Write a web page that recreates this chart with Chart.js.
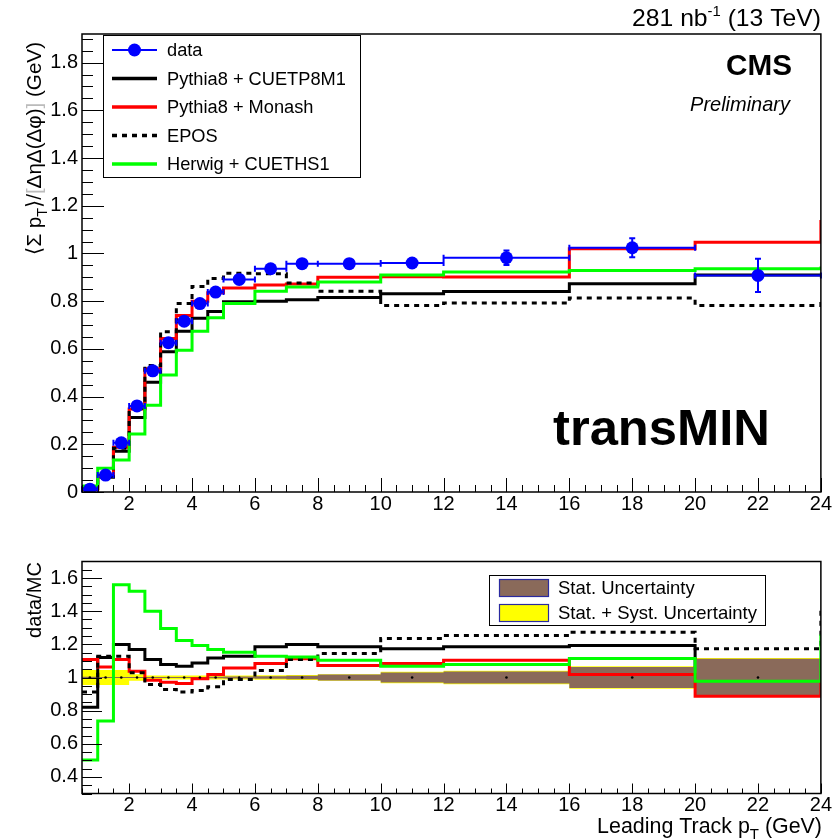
<!DOCTYPE html>
<html><head><meta charset="utf-8">
<script src="https://cdn.jsdelivr.net/npm/chart.js@4/dist/chart.umd.min.js"></script>
<style>
html,body{margin:0;padding:0;background:#fff;}
#wrap{position:relative;width:834px;height:840px;overflow:hidden;}
#c1{position:absolute;left:0;top:0;}
#c2{position:absolute;left:0;top:540px;}
</style></head><body>
<div id="wrap"><canvas id="c1" width="834" height="540"></canvas><canvas id="c2" width="834" height="300"></canvas></div>
<script>
// ---------------- data ----------------
const binEdges = [0.5,1,1.5,2,2.5,3,3.5,4,4.5,5,6,7,8,10,12,16,20,24];
const dataX = [0.75,1.25,1.75,2.25,2.75,3.25,3.75,4.25,4.75,5.5,6.5,7.5,9,11,14,18,22];
const dataValues = [0.012,0.071,0.206,0.361,0.508,0.626,0.716,0.790,0.838,0.891,0.936,0.957,0.957,0.960,0.982,1.024,0.908];
const dataErrors = [0.003,0.003,0.004,0.005,0.006,0.006,0.007,0.007,0.008,0.008,0.009,0.010,0.010,0.012,0.030,0.040,0.070];

const mcCUETP8M1 = [0.015,0.063,0.171,0.312,0.460,0.588,0.674,0.728,0.757,0.798,0.800,0.806,0.815,0.831,0.841,0.873,0.910];
const mcMonash   = [0.011,0.067,0.188,0.348,0.517,0.643,0.740,0.800,0.835,0.855,0.868,0.872,0.900,0.902,0.901,1.020,1.047];
const mcEPOS     = [0.013,0.063,0.183,0.351,0.530,0.672,0.790,0.862,0.895,0.917,0.915,0.876,0.842,0.782,0.792,0.813,0.782];
const mcHerwig   = [0.025,0.100,0.134,0.243,0.364,0.490,0.594,0.674,0.731,0.790,0.842,0.859,0.880,0.910,0.922,0.929,0.936];
const mcOverflow = [0.910,1.140,0.810,0.945]; // CUETP8M1, Monash, EPOS, Herwig

const ratioCUETP8M1 = [0.820,1.120,1.199,1.169,1.108,1.078,1.068,1.088,1.118,1.128,1.185,1.199,1.185,1.173,1.185,1.193,1.000];
const ratioMonash   = [1.108,1.064,1.108,1.038,0.984,0.972,0.964,0.992,1.018,1.058,1.084,1.113,1.072,1.084,1.104,1.018,0.887];
const ratioEPOS     = [0.912,1.128,1.128,1.028,0.958,0.928,0.912,0.922,0.944,0.988,1.042,1.108,1.145,1.235,1.253,1.273,1.173];
const ratioHerwig   = [0.502,0.737,1.560,1.520,1.400,1.295,1.223,1.193,1.169,1.153,1.128,1.124,1.104,1.068,1.078,1.114,0.978];
const ratioOverflow = [1.000,0.980,1.430,1.260];
const ratioData     = [1,1,1,1,1,1,1,1,1,1,1,1,1,1,1,1,1];
const statUnc  = [0.004,0.003,0.003,0.003,0.003,0.003,0.003,0.003,0.004,0.006,0.008,0.010,0.018,0.030,0.036,0.064,0.113];
const totalUnc = [0.045,0.045,0.045,0.020,0.012,0.012,0.012,0.012,0.012,0.012,0.013,0.015,0.020,0.034,0.040,0.068,0.117];

const legendLabels = ['data','Pythia8 + CUETP8M1','Pythia8 + Monash','EPOS','Herwig + CUETHS1'];
const ratioLegendLabels = ['Stat. Uncertainty','Stat. + Syst. Uncertainty'];
const xTicks = [2,4,6,8,10,12,14,16,18,20,22,24];
const yTicksTop = [0,0.2,0.4,0.6,0.8,1,1.2,1.4,1.6,1.8];
const yTicksRatio = [0.4,0.6,0.8,1,1.2,1.4,1.6];

// ---------------- helpers ----------------
const FONT = "'Liberation Sans', Arial, Helvetica, sans-serif";
const RED='#ff0000', GREEN='#00ff00', BLUE='#0000ff', BLACK='#000000', BROWN='#8a6a5a', YELLOW='#ffff00';
function fmt(v){ return String(parseFloat(Number(v).toFixed(2))); }
function stepData(vals,last){ const p = vals.map((v,i)=>({x:binEdges[i],y:v})); p.push({x:binEdges[binEdges.length-1],y:last}); return p; }
function bandData(half,sgn){ const p = half.map((h,i)=>({x:binEdges[i],y:1+sgn*h})); p.push({x:binEdges[binEdges.length-1],y:1+sgn*half[half.length-1]}); return p; }
function pts(xs,ys){ return xs.map((x,i)=>({x:x,y:ys[i]})); }
function lineDS(data,color,dash){ return {data:data,borderColor:color,backgroundColor:color,borderWidth:3,stepped:'before',pointRadius:0,fill:false,borderDash:dash||[],borderCapStyle:'butt',borderJoinStyle:'miter'}; }

function partsWidth(ctx,parts,size){ let w=0; for(const p of parts){ ctx.font=(p.style||'')+' '+(size*(p.k||1))+'px '+FONT; w+=ctx.measureText(p.t).width; } return w; }
function drawRich(ctx,parts,x,y,align,target,base){
  let size = base;
  if(target){ size = base*target/partsWidth(ctx,parts,base); }
  const w = partsWidth(ctx,parts,size);
  let cx = align==='right'? x-w : (align==='center'? x-w/2 : x);
  ctx.textBaseline='alphabetic'; ctx.textAlign='left';
  for(const p of parts){
    ctx.font=(p.style||'')+' '+(size*(p.k||1))+'px '+FONT;
    ctx.fillStyle=p.color||'#000';
    ctx.fillText(p.t,cx,y+(p.dy||0)*size);
    cx+=ctx.measureText(p.t).width;
  }
  return size;
}

const framePlugin = {
  id:'rootFrame',
  afterDatasetsDraw(chart,args,o){
    const ctx=chart.ctx, a=chart.chartArea, x=chart.scales.x, y=chart.scales.y;
    ctx.save();
    ctx.strokeStyle='#000'; ctx.lineWidth=1;
    ctx.beginPath();
    const minorX=[]; for(let k=Math.ceil(x.min/0.5-1e-9); k*0.5<=x.max+1e-9; k++) minorX.push(k*0.5);
    for(const v of minorX){ const px=Math.round(x.getPixelForValue(v))+0.5; const maj = xTicks.indexOf(v)>=0; ctx.moveTo(px,a.bottom); ctx.lineTo(px,a.bottom-(maj?o.xLen[0]:o.xLen[1])); }
    const minorY=[]; for(let k=Math.ceil(y.min/0.05-1e-9); k*0.05<=y.max+1e-9; k++) minorY.push(k*0.05);
    for(const v of minorY){ const py=Math.round(y.getPixelForValue(v))+0.5; const maj = Math.abs(Math.round(v/0.2)*0.2-v)<1e-6; ctx.moveTo(a.left,py); ctx.lineTo(a.left+(maj?o.yLen[0]:o.yLen[1]),py); }
    ctx.stroke();
    ctx.lineWidth=1.5;
    ctx.strokeRect(a.left,a.top,a.right-a.left,a.bottom-a.top);
    ctx.restore();
  }
};

function scalesFor(ymin,ymax,yticks,xH,yW){
  return {
    x:{type:'linear',min:0.5,max:24,grid:{display:false,drawTicks:false},border:{display:false},
       ticks:{color:'#000',font:{family:FONT,size:20,lineHeight:1},padding:2,maxRotation:0,autoSkip:false,callback:v=>fmt(v)},
       afterBuildTicks:s=>{s.ticks=xTicks.map(v=>({value:v}));},
       afterFit:s=>{s.height=xH;}},
    y:{type:'linear',min:ymin,max:ymax,grid:{display:false,drawTicks:false},border:{display:false},
       ticks:{color:'#000',font:{family:FONT,size:20},padding:4,callback:v=>fmt(v)},
       afterBuildTicks:s=>{s.ticks=yticks.map(v=>({value:v}));},
       afterFit:s=>{s.width=yW;}}
  };
}

// ---------------- upper chart ----------------
// Note: Chart.js draws dataset 0 last (on top), so the list runs from top-most to bottom-most.
const errPlugin = {
  id:'errBars',
  beforeDatasetDraw(chart,args){
    if(args.index!==0) return;
    const ctx=chart.ctx, x=chart.scales.x, y=chart.scales.y;
    ctx.save(); ctx.strokeStyle=BLUE; ctx.lineWidth=2; ctx.beginPath();
    dataValues.forEach((v,i)=>{
      const xl=x.getPixelForValue(binEdges[i]), xr=x.getPixelForValue(binEdges[i+1]), xc=x.getPixelForValue(dataX[i]);
      const yc=y.getPixelForValue(v);
      ctx.moveTo(xl,yc); ctx.lineTo(xr,yc);
      ctx.moveTo(xl,yc-3); ctx.lineTo(xl,yc+3); ctx.moveTo(xr,yc-3); ctx.lineTo(xr,yc+3);
      const yt=y.getPixelForValue(v+dataErrors[i]), yb=y.getPixelForValue(v-dataErrors[i]);
      if(yb-yt>12){ ctx.moveTo(xc,yt); ctx.lineTo(xc,yb); ctx.moveTo(xc-3,yt); ctx.lineTo(xc+3,yt); ctx.moveTo(xc-3,yb); ctx.lineTo(xc+3,yb); }
    });
    ctx.stroke(); ctx.restore();
  }
};
const topText = {
  id:'topText',
  afterDraw(chart){
    const ctx=chart.ctx; ctx.save();
    drawRich(ctx,[{t:'281 nb'},{t:'-1',k:0.6,dy:-0.4},{t:' (13 TeV)'}],821,26,'right',189,22);
    drawRich(ctx,[{t:'CMS',style:'bold'}],792,75,'right',66,28);
    drawRich(ctx,[{t:'Preliminary',style:'italic'}],790,111,'right',100,20);
    drawRich(ctx,[{t:'transMIN',style:'bold'}],553,445,'left',217,50);
    ctx.translate(41,42); ctx.rotate(-Math.PI/2);
    drawRich(ctx,[{t:'\u27E8\u03A3 p'},{t:'T',k:0.7,dy:0.3},{t:'\u27E9/'},{t:'[',color:'#bbbbbb'},{t:'\u0394\u03B7\u0394(\u0394\u03C6)'},{t:']',color:'#bbbbbb'},{t:' (GeV)'}],0,0,'right',212,19);
    ctx.restore();
    ctx.save();
    ctx.fillStyle='#fff'; ctx.fillRect(103,35,257,142);
    ctx.strokeStyle='#000'; ctx.lineWidth=1; ctx.strokeRect(103.5,35.5,257,142);
    const rowsY=[50,78.5,107,135.5,164];
    const cols=[BLUE,BLACK,RED,BLACK,GREEN];
    ctx.font='18px '+FONT;
    const fs = 18*179/ctx.measureText(legendLabels[1]).width;
    legendLabels.forEach((lab,i)=>{
      const yy=rowsY[i];
      ctx.beginPath(); ctx.strokeStyle=cols[i]; ctx.lineWidth=i===0?2:3.5; ctx.setLineDash(i===3?[5,5]:[]);
      ctx.moveTo(112,yy); ctx.lineTo(157,yy); ctx.stroke(); ctx.setLineDash([]);
      if(i===0){ ctx.beginPath(); ctx.fillStyle=BLUE; ctx.arc(134.5,yy,6.5,0,Math.PI*2); ctx.fill(); }
      ctx.fillStyle='#000'; ctx.font=fs+'px '+FONT; ctx.textBaseline='middle'; ctx.textAlign='left';
      ctx.fillText(lab,167,yy+1);
    });
    ctx.restore();
  }
};

new Chart(document.getElementById('c1'),{
  type:'line',
  data:{datasets:[
    {data:pts(dataX,dataValues),showLine:false,pointRadius:6.5,pointBackgroundColor:BLUE,pointBorderColor:BLUE,pointBorderWidth:0,borderColor:BLUE},
    lineDS(stepData(mcHerwig,mcOverflow[3]),GREEN),
    lineDS(stepData(mcEPOS,mcOverflow[2]),BLACK,[5,5]),
    lineDS(stepData(mcMonash,mcOverflow[1]),RED),
    lineDS(stepData(mcCUETP8M1,mcOverflow[0]),BLACK)
  ]},
  options:{responsive:false,animation:false,devicePixelRatio:1,
    layout:{padding:{top:34,right:13,left:0,bottom:0}},
    plugins:{legend:{display:false},tooltip:{enabled:false},rootFrame:{xLen:[14,7],yLen:[22,11]}},
    scales:scalesFor(0,1.92,yTicksTop,48,82)},
  plugins:[errPlugin,framePlugin,topText]
});

// ---------------- ratio chart ----------------
const ratioText = {
  id:'ratioText',
  afterDraw(chart){
    const ctx=chart.ctx; ctx.save();
    drawRich(ctx,[{t:'Leading Track p'},{t:'T',k:0.7,dy:0.3},{t:' (GeV)'}],822,293,'right',225,20);
    ctx.translate(41,22); ctx.rotate(-Math.PI/2);
    drawRich(ctx,[{t:'data/MC'}],0,0,'right',76,20);
    ctx.restore();
    ctx.save();
    ctx.fillStyle='#fff'; ctx.fillRect(489,35,276,50);
    ctx.strokeStyle='#000'; ctx.lineWidth=1; ctx.strokeRect(489.5,35.5,276,50);
    ctx.font='18px '+FONT;
    const fs = 18*199/ctx.measureText(ratioLegendLabels[1]).width;
    const rowsY=[48,73], fills=[BROWN,YELLOW];
    ratioLegendLabels.forEach((lab,i)=>{
      const yy=rowsY[i];
      ctx.fillStyle=fills[i]; ctx.fillRect(499,yy-9,49,18);
      ctx.strokeStyle='#2a2aa0'; ctx.lineWidth=1.2; ctx.strokeRect(499.5,yy-8.5,49,17);
      ctx.fillStyle='#000'; ctx.font=fs+'px '+FONT; ctx.textBaseline='middle'; ctx.textAlign='left';
      ctx.fillText(lab,558,yy+1);
    });
    ctx.restore();
  }
};
const bandDS=(data,color,fill)=>({data:data,borderWidth:0,borderColor:'rgba(0,0,0,0)',backgroundColor:color,stepped:'before',pointRadius:0,fill:fill});

new Chart(document.getElementById('c2'),{
  type:'line',
  data:{datasets:[
    {data:pts(dataX,ratioData),showLine:false,pointRadius:1.3,pointBackgroundColor:BLACK,pointBorderWidth:0,borderColor:BLACK},
    lineDS(stepData(ratioHerwig,ratioOverflow[3]),GREEN),
    lineDS(stepData(ratioEPOS,ratioOverflow[2]),BLACK,[5,5]),
    lineDS(stepData(ratioMonash,ratioOverflow[1]),RED),
    bandDS(bandData(statUnc,1),BROWN,'+1'),
    bandDS(bandData(statUnc,-1),BROWN,false),
    lineDS(stepData(ratioCUETP8M1,ratioOverflow[0]),BLACK),
    bandDS(bandData(totalUnc,1),YELLOW,'+1'),
    bandDS(bandData(totalUnc,-1),YELLOW,false)
  ]},
  options:{responsive:false,animation:false,devicePixelRatio:1,
    layout:{padding:{top:21.5,right:13,left:0,bottom:0}},
    plugins:{legend:{display:false},tooltip:{enabled:false},rootFrame:{xLen:[10,5],yLen:[20,10]}},
    scales:scalesFor(0.3,1.7,yTicksRatio,46.5,82)},
  plugins:[framePlugin,ratioText]
});
</script>
</body></html>
